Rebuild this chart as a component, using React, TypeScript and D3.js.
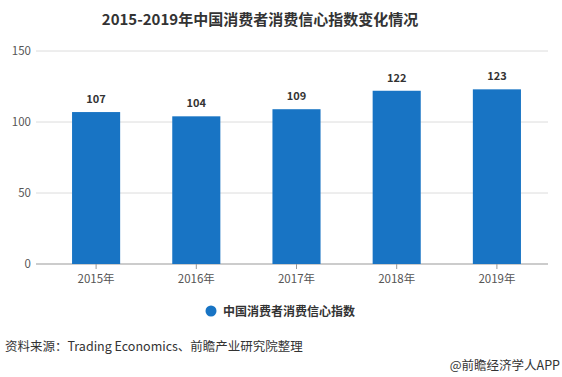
import React from "react";
import * as d3 from "d3";

const categories = ["2015年", "2016年", "2017年", "2018年", "2019年"];
const values = [107, 104, 109, 122, 123];
const yTicks = [0, 50, 100, 150];
const title = "2015-2019年中国消费者消费信心指数变化情况";
const seriesName = "中国消费者消费信心指数";
const source = "资料来源：Trading Economics、前瞻产业研究院整理";
const credit = "@前瞻经济学人APP";

const W = 562;
const H = 377;
const FONT = "'Microsoft YaHei', 'Noto Sans CJK SC', 'Open Sans', sans-serif";
const BAR = "#1874c4";

export default function App() {
  const x = d3.scaleBand<string>().domain(categories).range([46, 547]).paddingInner(0.52).paddingOuter(0.26);
  const y = d3.scaleLinear().domain([0, 150]).range([264, 51]);
  return (
    <svg width={W} height={H} style={{ position: "absolute", left: 0, top: 0, background: "#fff" }} fontFamily={FONT}>
      <text x={260} y={25} textAnchor="middle" fontSize={15} fontWeight="bold" fill="#333">{title}</text>
      {yTicks.map((t) => (
        <g key={t}>
          <line x1={36} x2={548} y1={y(t)} y2={y(t)} stroke={t === 0 ? "#999" : "#dcdcdc"} strokeWidth={1} />
          <text x={31} y={y(t) + 4} textAnchor="end" fontSize={11.5} fill="#555">{t}</text>
        </g>
      ))}
      {categories.map((c, i) => {
        const bx = x(c)!;
        const bw = x.bandwidth();
        return (
          <g key={c}>
            <rect x={bx} y={y(values[i])} width={bw} height={y(0) - y(values[i])} fill={BAR} />
            <text x={bx + bw / 2} y={y(values[i]) - 9} textAnchor="middle" fontSize={11} fontWeight="bold" fill="#333">{values[i]}</text>
            <line x1={bx + bw / 2} x2={bx + bw / 2} y1={264} y2={269} stroke="#999" />
            <text x={bx + bw / 2} y={283} textAnchor="middle" fontSize={11.5} fill="#555">{c}</text>
          </g>
        );
      })}
      <circle cx={211} cy={311} r={5.5} fill={BAR} />
      <text x={223} y={315.5} fontSize={12} fontWeight="bold" fill="#333">{seriesName}</text>
      <text x={5} y={351} fontSize={12.5} fill="#333">{source}</text>
      <text x={560} y={370} textAnchor="end" fontSize={12.5} fill="#333">{credit}</text>
    </svg>
  );
}
